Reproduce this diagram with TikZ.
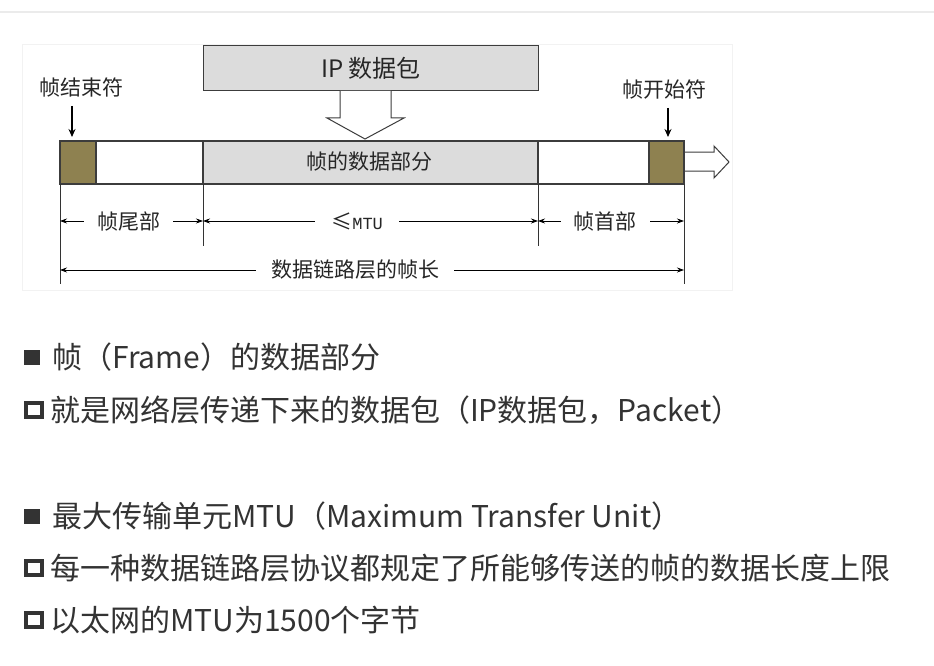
\documentclass[tikz,border=0pt]{standalone}
\usepackage{fontspec}
\setmainfont{Noto Sans CJK SC}
\newfontfamily\cjkf{Noto Sans CJK SC}
\newfontfamily\monof{Liberation Mono}
\usetikzlibrary{arrows.meta}
\definecolor{linec}{HTML}{3C3C3C}
\definecolor{boxgray}{HTML}{DCDCDC}
\definecolor{olivec}{HTML}{8E8150}
\definecolor{txt}{HTML}{333333}
\newcommand{\dfont}{\cjkf\fontsize{21}{21}\selectfont}
\newcommand{\bfont}{\cjkf\fontsize{30}{30}\selectfont}
\begin{document}
\begin{tikzpicture}[x=1pt,y=-1pt,
  seg/.style={draw=linec, line width=1.2pt},
  hollow/.style={draw=linec, fill=white, line width=1pt, line join=miter},
  dim/.style={{Stealth[length=7pt,width=5pt]}-{Stealth[length=7pt,width=5pt]}, line width=0.8pt, draw=black},
  dimlabel/.style={fill=white, inner xsep=13pt, inner ysep=1pt, font=\dfont, text=black!85},
  tickline/.style={draw=black!80, line width=0.7pt},
  darr/.style={-{Stealth[length=8pt,width=7pt]}, line width=1.6pt, draw=black},
  plain/.style={font=\dfont, text=black!85, inner sep=1pt},
  bodytext/.style={anchor=west, inner sep=0pt, text=txt, font=\bfont},
  bulletfill/.style={fill=txt},
  bullethollow/.style={draw=txt, line width=3.6pt}
]
\useasboundingbox (0,0) rectangle (934,666);
\fill[white] (0,0) rectangle (934,666);
% top rule and faint frame
\draw[black!8, line width=2pt] (0,12) -- (934,12);
\draw[black!5, line width=1pt] (22,45) rectangle (732,290);

% IP packet box
\node[seg, fill=boxgray, minimum width=335pt, minimum height=45pt, anchor=north west, inner sep=0pt,
      font=\cjkf\fontsize{24}{24}\selectfont, text=black!85] (ip) at (203,45) {IP 数据包};
% hollow down arrow
\draw[hollow] (340,91) -- (340,118) -- (327,118) -- (365,139) -- (404,118) -- (391,118) -- (391,91);

% frame bar
\draw[seg, fill=olivec] (60,141) rectangle (96,184);
\draw[seg, fill=white] (96,141) rectangle (203,184);
\draw[seg, fill=boxgray] (203,141) rectangle (538,184);
\draw[seg, fill=white] (538,141) rectangle (649,184);
\draw[seg, fill=olivec] (649,141) rectangle (684,184);
\node[plain] (data) at (369,162) {帧的数据部分};
% hollow right arrow
\draw[hollow] (685,152) -- (714,152) -- (714,146) -- (729,162) -- (714,178) -- (714,171) -- (685,171);

% start / end markers
\node[plain] (endl) at (81,88) {帧结束符};
\coordinate (endtop) at (72,106);
\coordinate (endtip) at (72,137);
\draw[darr] (endtop) -- (endtip);
\node[plain] (startl) at (664,90) {帧开始符};
\coordinate (starttop) at (668,108);
\coordinate (starttip) at (668,137);
\draw[darr] (starttop) -- (starttip);

% ticks
\coordinate (t1) at (60,184);
\coordinate (t2) at (203,184);
\coordinate (t3) at (538,184);
\coordinate (t4) at (684,184);
\draw[tickline] (t1) -- (60,284);
\draw[tickline] (t2) -- (203,246);
\draw[tickline] (t3) -- (538,246);
\draw[tickline] (t4) -- (684,284);

% dimension lines
\draw[dim] (60,221) -- (203,221) node[pos=0.48, dimlabel] (tail) {帧尾部};
\draw[dim] (203,221) -- (538,221) node[pos=0.46, dimlabel, inner xsep=16pt] (mtu) {≤{\monof\fontsize{17}{17}\selectfont MTU}};
\draw[dim] (538,221) -- (684,221) node[pos=0.46, dimlabel] (head) {帧首部};
\draw[dim] (60,270) -- (684,270) node[pos=0.473, dimlabel, inner xsep=15pt] (flen) {数据链路层的帧长};

% bullet text
\fill[bulletfill] (24,350) rectangle (40,365);
\node[bodytext] (l1) at (52,357) {帧（Frame）的数据部分};
\draw[bullethollow] (26,403) rectangle (42,417);
\node[bodytext] (l2) at (50,410) {就是网络层传递下来的数据包（IP数据包，Packet）};

\fill[bulletfill] (24,509) rectangle (40,524);
\node[bodytext] (l3) at (52,516) {最大传输单元MTU（Maximum Transfer Unit）};
\draw[bullethollow] (26,561) rectangle (42,575);
\node[bodytext] (l4) at (50,568) {每一种数据链路层协议都规定了所能够传送的帧的数据长度上限};
\draw[bullethollow] (26,613) rectangle (42,627);
\node[bodytext] (l5) at (50,620) {以太网的MTU为1500个字节};
\end{tikzpicture}
\end{document}
